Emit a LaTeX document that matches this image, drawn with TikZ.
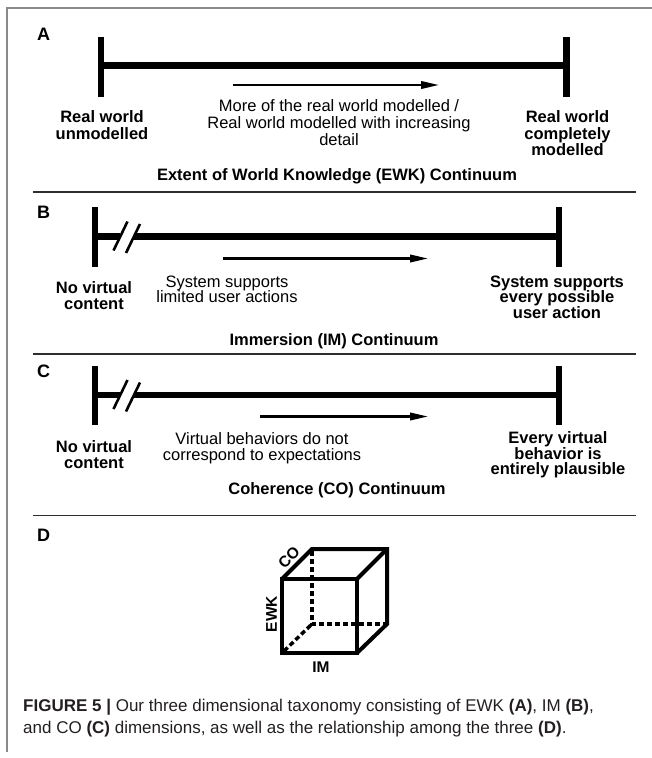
\documentclass[tikz,border=0pt]{standalone}
\usepackage{fontspec}
\setmainfont{Liberation Sans}
\usetikzlibrary{arrows.meta}
\newcommand\ctrlines[2][15.5]{\vtop{\baselineskip=#1pt\lineskiplimit=-100pt\halign{\hfil##\hfil\cr#2\crcr}}}
\newcommand\leftlines[2][22]{\vtop{\baselineskip=#1pt\lineskiplimit=-100pt\halign{##\hfil\cr#2\crcr}}}
\definecolor{sepcol}{HTML}{2E2E2E}
\definecolor{bordcol}{HTML}{8A8A8A}
\definecolor{capcol}{HTML}{231F20}
\tikzset{
  x=1pt, y=-1pt,
  barline/.style={line width=6.5pt, line cap=butt},
  slashline/.style={line width=2.6pt},
  arrowline/.style={line width=2.2pt, -{Triangle[length=18pt,width=7.5pt]}},
  sepline/.style={line width=1.8pt, draw=sepcol},
  bordline/.style={line width=1.3pt, draw=bordcol},
  cubeline/.style={line width=4pt, line join=miter},
  hiddenline/.style={line width=3.5pt, dash pattern=on 5pt off 3pt},
  lab/.style={inner sep=0pt, font=\fontsize{16.5}{16}\selectfont\bfseries},
  txt/.style={inner sep=0pt, font=\fontsize{16.5}{16}\selectfont},
  panellab/.style={inner sep=0pt, anchor=base west, font=\fontsize{18}{18}\selectfont\bfseries},
  cubelab/.style={inner sep=0pt, font=\fontsize{15.5}{15.5}\selectfont\bfseries},
}
\begin{document}
\begin{tikzpicture}
\path[use as bounding box] (0,0) rectangle (652,758);
% frame
\draw[bordline] (7,752) -- (7,8) -- (652,8);

% ---------- Panel A ----------
\node[panellab] (labA) at (37,40) {A};
\draw[barline] (101,37) -- (101,97);
\draw[barline] (566.5,37) -- (566.5,97);
\draw[barline] (101,65.5) -- (566.5,65.5);
\coordinate (aS) at (233,85);
\coordinate (aE) at (439,85);
\draw[arrowline] (aS) -- (aE);
\node[lab, anchor=base] (lA) at (102,122.5) {\ctrlines[16.5]{Real world\cr unmodelled}};
\node[txt, anchor=base] (mA) at (339,111.7) {\ctrlines[16.7]{More of the real world modelled /\cr Real world modelled with increasing\cr detail}};
\node[lab, anchor=base] (rA) at (567.5,122.5) {\ctrlines[16.5]{Real world\cr completely\cr modelled}};
\node[lab, anchor=base] (tA) at (337,180.5) {Extent of World Knowledge (EWK) Continuum};
\draw[sepline] (33,192) -- (636,192);

% ---------- Panel B ----------
\node[panellab] (labB) at (37,218.5) {B};
\draw[barline] (95,207) -- (95,267);
\draw[barline] (559,207) -- (559,267);
\draw[barline] (95,236.5) -- (120,236.5);
\draw[barline] (134,236.5) -- (559,236.5);
\draw[slashline] (113.5,250.5) -- (127.5,221.5);
\draw[slashline] (126,253) -- (140,224);
\coordinate (bS) at (223,258.5);
\coordinate (bE) at (428,258.5);
\draw[arrowline] (bS) -- (bE);
\node[lab, anchor=base] (lB) at (94,293.5) {\ctrlines[15.5]{No virtual\cr content}};
\node[txt, anchor=base] (mB) at (227,287) {\ctrlines[15.5]{System supports\cr limited user actions}};
\node[lab, anchor=base] (rB) at (557,287) {\ctrlines[15.7]{System supports\cr every possible\cr user action}};
\node[lab, anchor=base] (tB) at (334,345) {Immersion (IM) Continuum};
\draw[sepline] (33,354) -- (636,354);

% ---------- Panel C ----------
\node[panellab] (labC) at (37,377) {C};
\draw[barline] (95,366) -- (95,425);
\draw[barline] (559,366) -- (559,425);
\draw[barline] (95,395) -- (120,395);
\draw[barline] (134,395) -- (559,395);
\draw[slashline] (113.5,409) -- (127.5,380);
\draw[slashline] (126,411.5) -- (140,382.5);
\coordinate (cS) at (260,416.5);
\coordinate (cE) at (428,416.5);
\draw[arrowline] (cS) -- (cE);
\node[lab, anchor=base] (lC) at (94,452) {\ctrlines[16]{No virtual\cr content}};
\node[txt, anchor=base] (mC) at (262,444.5) {\ctrlines[15.5]{Virtual behaviors do not\cr correspond to expectations}};
\node[lab, anchor=base] (rC) at (558,443.5) {\ctrlines[15.7]{Every virtual\cr behavior is\cr entirely plausible}};
\node[lab, anchor=base] (tC) at (337,494.5) {Coherence (CO) Continuum};
\draw[sepline] (33,515.5) -- (636,515.5);

% ---------- Panel D ----------
\node[panellab] (labD) at (37,541) {D};
\draw[hiddenline] (312,551) -- (312,624) -- (385,624);
\draw[hiddenline] (284,651) -- (312,624);
\draw[cubeline] (282,579) -- (357,579) -- (357,653) -- (282,653) -- cycle;
\draw[cubeline] (282,579) -- (312,549) -- (387,549) -- (387,624) -- (357,653);
\draw[cubeline] (357,579) -- (387,549);
\node[cubelab, rotate=45] (co) at (289,557) {CO};
\node[cubelab, rotate=90] (ewk) at (271.5,614) {EWK};
\node[cubelab] (im) at (321,667) {IM};

% ---------- Caption ----------
\node[inner sep=0pt, anchor=base west, text=capcol, font=\fontsize{17}{22}\selectfont] (cap) at (23,711)
  {\leftlines[22]{\textbf{FIGURE 5 |} Our three dimensional taxonomy consisting of EWK \textbf{(A)}, IM \textbf{(B)},\cr
  and CO \textbf{(C)} dimensions, as well as the relationship among the three \textbf{(D)}.}};
\end{tikzpicture}
\end{document}
